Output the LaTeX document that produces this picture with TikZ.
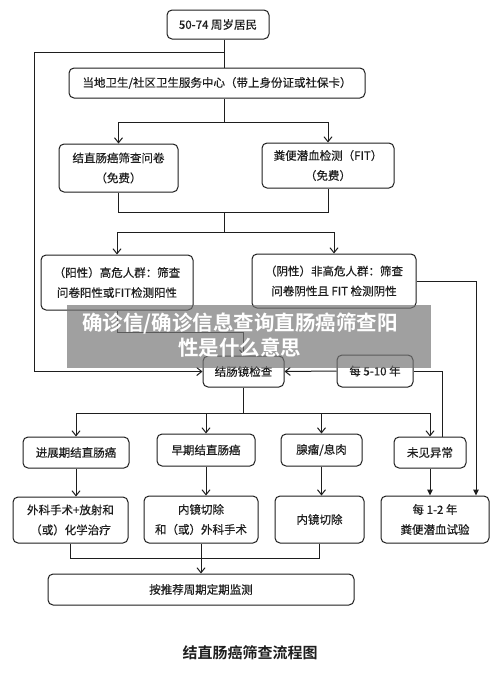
\documentclass[tikz,border=0pt]{standalone}
\usepackage{fontspec}
\newfontfamily\cjk{Noto Sans CJK SC}[BoldFont={Noto Sans CJK SC Bold}]
\newfontfamily\cjkm{Noto Sans CJK SC}[FakeBold=0.5]
\usetikzlibrary{arrows.meta}
\definecolor{ink}{HTML}{1E1E1E}
\tikzset{
  box/.style={draw=ink, line width=1pt, rounded corners=5pt, fill=white, align=center,
    inner sep=0pt, text=ink, font=\cjkm\fontsize{11.5}{20}\selectfont},
  conn/.style={draw=ink, line width=1pt},
  arr/.style={conn, -{Straight Barb[length=5pt,width=8pt]}},
  tarr/.style={conn, -{Triangle[length=6pt,width=5.5pt]}},
}
\begin{document}
\begin{tikzpicture}[x=1pt,y=-1pt]
\useasboundingbox (0,0) rectangle (500,673);
% boxes
\node[box, minimum width=102pt, minimum height=29pt] (b1) at (218,24.5) {50-74 周岁居民};
\node[box, minimum width=296pt, minimum height=30pt] (b2) at (217,83) {当地卫生/社区卫生服务中心（带上身份证或社保卡）};
\node[box, minimum width=119pt, minimum height=48pt] (b3l) at (118.5,168) {结直肠癌筛查问卷\\（免费）};
\node[box, minimum width=132pt, minimum height=45pt] (b3r) at (328,165.5) {粪便潜血检测（FIT）\\（免费）};
\node[box, minimum width=152pt, minimum height=55pt] (b4l) at (117,282.5) {（阳性）高危人群：筛查\\问卷阳性或FIT检测阳性};
\node[box, minimum width=164pt, minimum height=54pt] (b4r) at (334,281) {（阴性）非高危人群：筛查\\问卷阴性且 FIT 检测阴性};
\node[box, minimum width=81pt, minimum height=31pt] (colo) at (243.5,371.5) {结肠镜检查};
\node[box, minimum width=76pt, minimum height=32pt] (five) at (375,371) {每 5-10 年};
\node[box, minimum width=106pt, minimum height=31pt] (r1) at (76,452.5) {进展期结直肠癌};
\node[box, minimum width=98pt, minimum height=32pt] (r2) at (206,450) {早期结直肠癌};
\node[box, minimum width=81pt, minimum height=32pt] (r3) at (321.5,450) {腺瘤/息肉};
\node[box, minimum width=72pt, minimum height=31pt] (r4) at (430,452.5) {未见异常};
\node[box, minimum width=115pt, minimum height=46pt] (s1) at (70.5,520) {外科手术+放射和\\（或）化学治疗};
\node[box, minimum width=114pt, minimum height=47pt] (s2) at (201,519.5) {内镜切除\\和（或）外科手术};
\node[box, minimum width=89pt, minimum height=47pt] (s3) at (319.5,519.5) {内镜切除};
\node[box, minimum width=108pt, minimum height=47pt] (s4) at (435,519.5) {每 1-2 年\\粪便潜血试验};
\node[box, minimum width=306pt, minimum height=31pt] (fin) at (201,589.5) {按推荐周期定期监测};
\node[text=ink, font=\cjk\bfseries\fontsize{15}{18}\selectfont] (cap) at (250,653) {结直肠癌筛查流程图};
% helper coordinates
\coordinate (t1) at (224,52);
\coordinate (L) at (34,52);
\coordinate (t2) at (224,122);
\coordinate (j3) at (224,212);
\coordinate (j4) at (224,232);
\coordinate (j5) at (0,332);
\coordinate (rx) at (476,0);
\coordinate (ux) at (442,0);
\coordinate (j6) at (0,413);
\coordinate (j7) at (0,558);
% connectors
\draw[conn] (b1.south -| t1) -- (b2.north -| t1);
\draw[arr] (t1) -- (L) |- (colo.west);
\draw[conn] (b2.south -| t2) -- (t2);
\draw[arr] (t2) -| (b3l.north);
\draw[arr] (t2) -| (b3r.north);
\draw[conn] (b3l.south) -- (b3l.south |- j3) -- (b3r.south |- j3) -- (b3r.south);
\draw[conn] (j3) -- (j4);
\draw[arr] (j4) -| (b4l.north);
\draw[arr] (j4) -| (b4r.north);
\draw[arr] (b4l.south) -- (b4l.south |- j5) -| (colo.north);
\draw[tarr] (b4r.east) -| (s4.north -| rx);
\draw[arr] (five.west) -- (colo.east);
\draw[conn] (r4.north -| ux) |- (five.east);
\draw[conn] (colo.south) -- (colo.south |- j6);
\foreach \n in {r1,r2,r3,r4} \draw[arr] (colo.south |- j6) -| (\n.north);
\foreach \a/\b in {r1/s1,r2/s2,r3/s3} \draw[arr] (\a.south) -- (\a.south |- \b.north);
\draw[tarr] (r4.south) -- (r4.south |- s4.north);
\draw[conn] (s1.south) -- (s1.south |- j7) -- (s3.south |- j7) -- (s3.south);
\draw[arr] (s2.south) -- (fin.north);
% watermark banner
\fill[black!54, opacity=0.69] (67,305) rectangle (431,368);
\node[text=white, font=\cjk\bfseries\fontsize{20.5}{25}\selectfont, align=center] (wm) at (240,335.5) {确诊信/确诊信息查询直肠癌筛查阳\\性是什么意思};
\end{tikzpicture}
\end{document}
